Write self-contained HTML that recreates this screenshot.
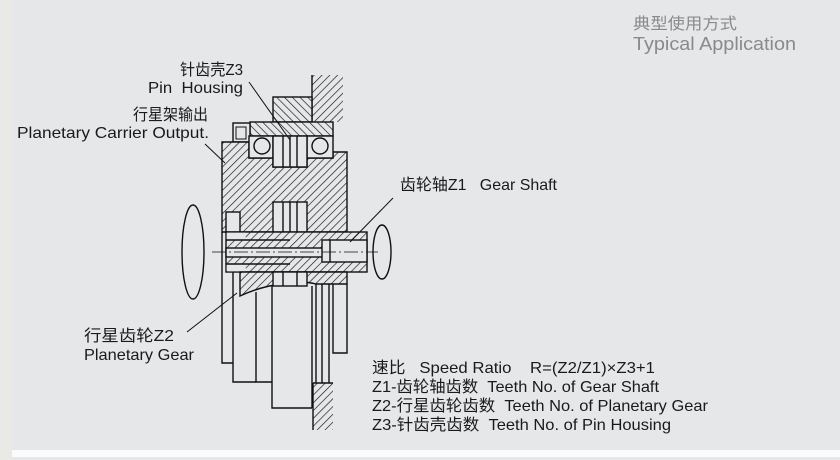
<!DOCTYPE html>
<html><head><meta charset="utf-8"><style>
html,body{margin:0;padding:0;}
body{width:840px;height:460px;background:#e6e7e9;overflow:hidden;position:relative;}
svg{position:absolute;left:0;top:0;}
text{white-space:pre;}
</style></head><body>
<svg width="840" height="460" viewBox="0 0 840 460" xmlns="http://www.w3.org/2000/svg" xml:space="preserve">
<defs>
<pattern id="hb" width="5.5" height="5.5" patternUnits="userSpaceOnUse" patternTransform="rotate(45)">
<rect width="5.5" height="5.5" fill="#e6e7e9"/><line x1="0" y1="0" x2="0" y2="5.5" stroke="#111" stroke-width="1.3"/></pattern>
<pattern id="hf" width="5.5" height="5.5" patternUnits="userSpaceOnUse" patternTransform="rotate(-45)">
<rect width="5.5" height="5.5" fill="#e6e7e9"/><line x1="0" y1="0" x2="0" y2="5.5" stroke="#111" stroke-width="1.3"/></pattern>
</defs>
<rect x="0" y="0" width="12" height="460" fill="#e9e9e5"/>
<rect x="12" y="450" width="828" height="7" fill="#fbfbfb"/>

<g font-family="'Liberation Sans','Noto Sans CJK SC',sans-serif" fill="#8a8a8a">
<text x="633" y="29" font-size="16" textLength="104" lengthAdjust="spacingAndGlyphs">典型使用方式</text>
<text x="633" y="50" font-size="18" textLength="163" lengthAdjust="spacingAndGlyphs">Typical Application</text>
</g>

<g stroke="#111" stroke-width="1.4" fill="none">
<rect x="312" y="75" width="31" height="47" fill="url(#hb)" stroke="none"/>
<line x1="312" y1="75" x2="312" y2="122"/>
<rect x="273" y="97" width="39" height="25" fill="url(#hf)"/>
<rect x="250" y="122" width="83" height="14" fill="url(#hf)"/>
<rect x="233" y="123" width="17" height="19" fill="#e6e7e9"/>
<path d="M236 127 h10 v12 h-10z" stroke-width="1"/>
<path d="M222 142 H249 V158 H273 V167 H307 V158 H333 V152 H347 V232 H222 Z" fill="url(#hb)"/>
<rect x="249" y="136" width="24" height="22" fill="#e6e7e9"/>
<circle cx="262" cy="146" r="8"/>
<rect x="307" y="136" width="26" height="22" fill="#e6e7e9"/>
<circle cx="320" cy="146" r="8"/>
<rect x="273" y="136" width="34" height="31" fill="#e6e7e9"/>
<line x1="283" y1="136" x2="283" y2="167"/><line x1="290" y1="136" x2="290" y2="167"/><line x1="297" y1="136" x2="297" y2="167"/>
<rect x="273" y="202" width="34" height="30" fill="#e6e7e9"/>
<line x1="283" y1="202" x2="283" y2="232"/><line x1="290" y1="202" x2="290" y2="232"/><line x1="297" y1="202" x2="297" y2="232"/>
<rect x="226" y="212" width="14" height="20" fill="#e6e7e9"/>
<rect x="226" y="232" width="141" height="40" fill="url(#hb)"/>
<rect x="226.7" y="232.7" width="19" height="7" fill="#e6e7e9" stroke="none"/>
<rect x="226.7" y="264.3" width="19" height="7" fill="#e6e7e9" stroke="none"/>
<line x1="226" y1="240" x2="290" y2="240"/><line x1="226" y1="264" x2="290" y2="264"/>
<rect x="226" y="248" width="104" height="9" fill="#e6e7e9"/>
<rect x="322" y="240" width="45" height="22" fill="#e6e7e9"/>
<line x1="330" y1="240" x2="330" y2="262"/>
<path d="M240 272 H347 V284 H316 Q300 280 282 284 Q262 286 240 296 Z" fill="url(#hb)"/>
<rect x="273" y="272" width="34" height="14" fill="#e6e7e9"/>
<line x1="283" y1="272" x2="283" y2="286"/><line x1="297" y1="272" x2="297" y2="286"/>
<path d="M222 232 V363 H233"/>
<path d="M233 272 V382 H256"/>
<path d="M256 292 V382 H272"/>
<path d="M272 286 V408 H312"/>
<path d="M312 286 V408"/>
<line x1="316" y1="284" x2="316" y2="383"/>
<line x1="322" y1="284" x2="322" y2="383"/>
<line x1="329" y1="284" x2="329" y2="383"/>
<path d="M333 284 V353 H347 V284"/>
<rect x="313" y="383" width="20" height="47" fill="url(#hb)" stroke="none"/>
<line x1="313" y1="383" x2="313" y2="430"/>
<line x1="313" y1="383" x2="333" y2="383"/>
<line x1="212" y1="252" x2="378" y2="252" stroke-width="0.8" stroke-dasharray="14 3 2 3"/>
<ellipse cx="193" cy="252" rx="11" ry="47"/>
<ellipse cx="382" cy="252" rx="9" ry="27"/>
<line x1="249" y1="82" x2="290" y2="140" stroke-width="1"/>
<line x1="205" y1="144" x2="225" y2="163" stroke-width="1"/>
<line x1="393" y1="198" x2="350" y2="242" stroke-width="1"/>
<line x1="187" y1="332" x2="237" y2="293" stroke-width="1"/>
</g>

<g font-family="'Liberation Sans','Noto Sans CJK SC',sans-serif" fill="#1a1a1a" font-size="16">
<text x="180" y="75" textLength="63" lengthAdjust="spacingAndGlyphs">针齿壳Z3</text>
<text x="148" y="93" textLength="95" lengthAdjust="spacingAndGlyphs">Pin  Housing</text>
<text x="133" y="120" textLength="75" lengthAdjust="spacingAndGlyphs">行星架输出</text>
<text x="17" y="138" textLength="192" lengthAdjust="spacingAndGlyphs">Planetary Carrier Output.</text>
<text x="400" y="190" textLength="157" lengthAdjust="spacingAndGlyphs">齿轮轴Z1   Gear Shaft</text>
<text x="84" y="341" textLength="90" lengthAdjust="spacingAndGlyphs">行星齿轮Z2</text>
<text x="84" y="360" textLength="110" lengthAdjust="spacingAndGlyphs">Planetary Gear</text>
<text x="372" y="373" textLength="283" lengthAdjust="spacingAndGlyphs">速比   Speed Ratio    R=(Z2/Z1)×Z3+1</text>
<text x="372" y="392" textLength="287" lengthAdjust="spacingAndGlyphs">Z1-齿轮轴齿数  Teeth No. of Gear Shaft</text>
<text x="372" y="411" textLength="336" lengthAdjust="spacingAndGlyphs">Z2-行星齿轮齿数  Teeth No. of Planetary Gear</text>
<text x="372" y="430" textLength="299" lengthAdjust="spacingAndGlyphs">Z3-针齿壳齿数  Teeth No. of Pin Housing</text>
</g>
</svg>
</body></html>
